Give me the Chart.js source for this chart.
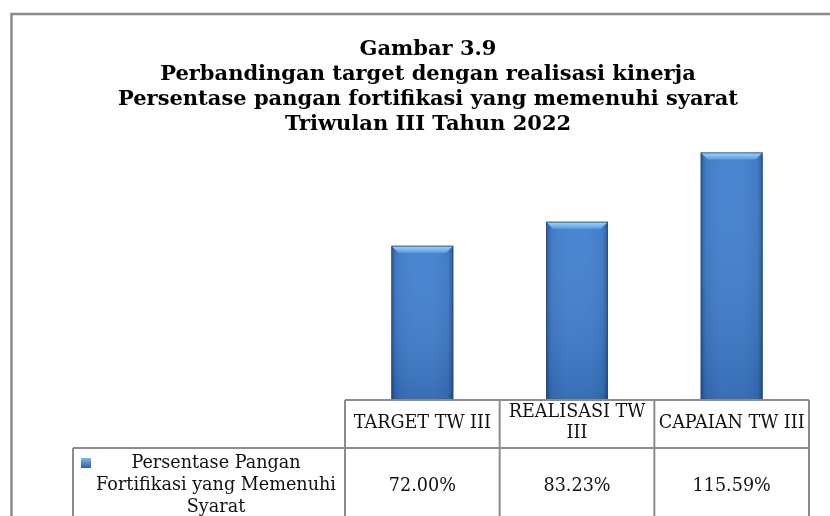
<!DOCTYPE html>
<html>
<head>
    <script src="https://cdn.jsdelivr.net/npm/chart.js@4.4.0/dist/chart.umd.min.js"></script>
    <style>
        body {
            margin: 0;
            padding: 0;
            background: white;
        }
        .chart-container {
            position: relative;
            width: 830px;
            height: 516px;
        }
    </style>
</head>
<body>
    <div class="chart-container">
        <canvas id="kinerjaChart"></canvas>
    </div>

    <script>
        // data
        const titleLines = [
            'Gambar 3.9',
            'Perbandingan target dengan realisasi kinerja',
            'Persentase pangan fortifikasi yang memenuhi syarat',
            'Triwulan III Tahun 2022'
        ];
        const categories = ['TARGET TW III', ['REALISASI TW', 'III'], 'CAPAIAN TW III'];
        const seriesLabel = ['Persentase Pangan', 'Fortifikasi yang Memenuhi', 'Syarat'];
        const seriesValues = [72.00, 83.23, 115.59];

        const SERIF = '"DejaVu Serif", serif';
        const GRID = '#8c8c8c';

        // outer frame of the chart object
        const framePlugin = {
            id: 'frame',
            beforeDraw(chart) {
                const c = chart.ctx;
                c.save();
                c.strokeStyle = '#8a8a8a';
                c.lineWidth = 2.5;
                c.strokeRect(11.5, 14, 900, 600);
                c.restore();
            }
        };

        // bevel / shading on the bars
        const bevelPlugin = {
            id: 'bevel',
            afterDatasetsDraw(chart) {
                const c = chart.ctx;
                chart.getDatasetMeta(0).data.forEach(bar => {
                    const l = bar.x - bar.width / 2;
                    const r = bar.x + bar.width / 2;
                    const t = bar.y;
                    const b = bar.base;
                    c.save();
                    // side darkening
                    const hg = c.createLinearGradient(l, 0, r, 0);
                    hg.addColorStop(0, 'rgba(20,40,80,0.5)');
                    hg.addColorStop(0.08, 'rgba(20,40,80,0.1)');
                    hg.addColorStop(0.5, 'rgba(255,255,255,0.02)');
                    hg.addColorStop(0.92, 'rgba(20,40,80,0.1)');
                    hg.addColorStop(1, 'rgba(20,40,80,0.5)');
                    c.fillStyle = hg;
                    c.fillRect(l, t, r - l, b - t);
                    // bottom darker
                    const vg = c.createLinearGradient(0, t, 0, b);
                    vg.addColorStop(0, 'rgba(255,255,255,0.04)');
                    vg.addColorStop(1, 'rgba(10,30,70,0.18)');
                    c.fillStyle = vg;
                    c.fillRect(l, t, r - l, b - t);
                    // top bevel
                    const d = 7;
                    const tg = c.createLinearGradient(0, t, 0, t + d);
                    tg.addColorStop(0, '#a8d6fa');
                    tg.addColorStop(1, '#5a9de2');
                    c.fillStyle = tg;
                    c.beginPath();
                    c.moveTo(l, t);
                    c.lineTo(r, t);
                    c.lineTo(r - d, t + d);
                    c.lineTo(l + d, t + d);
                    c.closePath();
                    c.fill();
                    c.strokeStyle = 'rgba(35,70,125,0.75)';
                    c.lineWidth = 1;
                    c.strokeRect(l + 0.5, t + 0.5, r - l - 1, b - t);
                    c.restore();
                });
            }
        };

        // data table under the bars
        const tablePlugin = {
            id: 'dataTable',
            afterDraw(chart) {
                const c = chart.ctx;
                const x = chart.scales.x;
                const n = categories.length;
                const colW = (x.right - x.left) / n;
                const headTop = chart.chartArea.bottom;
                const headBot = headTop + 48;
                const rowBot = headBot + 80;
                const labelLeft = 73;

                c.save();
                c.strokeStyle = GRID;
                c.lineWidth = 2;
                c.beginPath();
                // header row
                c.moveTo(x.left, headTop); c.lineTo(x.right, headTop);
                for (let i = 0; i <= n; i++) {
                    const px = x.left + i * colW;
                    c.moveTo(px, headTop); c.lineTo(px, rowBot);
                }
                // data row
                c.moveTo(labelLeft, headBot); c.lineTo(x.right, headBot);
                c.moveTo(labelLeft, headBot); c.lineTo(labelLeft, rowBot);
                c.stroke();

                c.fillStyle = '#111';
                c.font = '17.6px ' + SERIF;
                c.textAlign = 'center';
                c.textBaseline = 'middle';
                const lh = 21;
                categories.forEach((cat, i) => {
                    const lines = Array.isArray(cat) ? cat : [cat];
                    const cx = x.getPixelForValue(i);
                    const cy = (headTop + headBot) / 2 - (lines.length - 1) * lh / 2;
                    lines.forEach((ln, j) => c.fillText(ln, cx, cy + j * lh - 1));
                });

                // series label with legend key
                const keyX = 81, keyY = 458;
                const kg = c.createLinearGradient(keyX, keyY, keyX, keyY + 10);
                kg.addColorStop(0, '#7fb6ee');
                kg.addColorStop(1, '#2d5fa3');
                c.fillStyle = kg;
                c.fillRect(keyX, keyY, 10, 10);

                c.fillStyle = '#111';
                const lx = 216;
                seriesLabel.forEach((ln, j) => c.fillText(ln, lx, 463 + j * 22));

                seriesValues.forEach((v, i) => {
                    c.fillText(v.toFixed(2) + '%', x.getPixelForValue(i), 486);
                });
                c.restore();
            }
        };

        const ctx = document.getElementById('kinerjaChart').getContext('2d');
        const chart = new Chart(ctx, {
            type: 'bar',
            data: {
                labels: categories,
                datasets: [{
                    label: seriesLabel.join(' '),
                    data: seriesValues,
                    backgroundColor: '#3c7dcf',
                    borderWidth: 0,
                    categoryPercentage: 1,
                    barPercentage: 0.4
                }]
            },
            options: {
                responsive: true,
                maintainAspectRatio: false,
                animation: false,
                layout: {
                    padding: { left: 47, right: 21, top: 14, bottom: 116 }
                },
                scales: {
                    x: { display: false },
                    y: {
                        min: 0,
                        max: 120,
                        ticks: { display: false },
                        grid: { display: false },
                        border: { display: false },
                        afterFit: s => { s.width = 298; }
                    }
                },
                plugins: {
                    legend: { display: false },
                    tooltip: { enabled: false },
                    title: {
                        display: true,
                        text: titleLines,
                        color: '#000',
                        font: { family: SERIF, size: 21, weight: 'bold', lineHeight: 25 / 21 },
                        padding: { top: 23, bottom: 6 }
                    }
                }
            },
            plugins: [framePlugin, bevelPlugin, tablePlugin]
        });
    </script>
</body>
</html>
